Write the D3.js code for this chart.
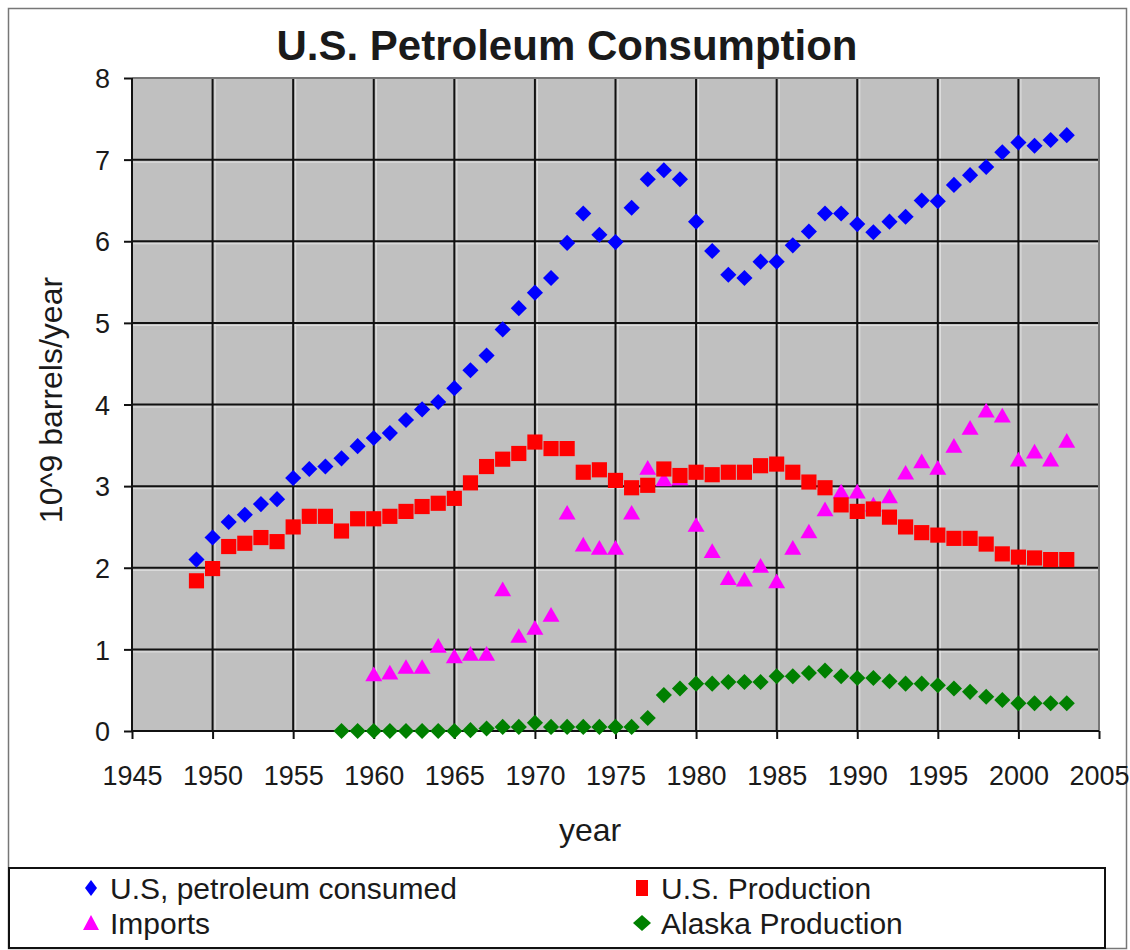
<!DOCTYPE html>
<html lang="en">
<meta charset="utf-8"/>
<head>
<script src="https://d3js.org/d3.v7.min.js"></script>
</head>
<style>
  body { margin: 0; background: #fff; }
  text { font-family: "Liberation Sans", Arial, sans-serif; fill: #1a1a1a; }
  .axis path { display: none; }
  .axis line { stroke: #111; stroke-width: 2; }
  .axis text { font-size: 27px; }
</style>
<body>
<script>
// years on the x axis, one value per year in each series (null = no data)
var years = [1949,1950,1951,1952,1953,1954,1955,1956,1957,1958,
             1959,1960,1961,1962,1963,1964,1965,1966,1967,1968,
             1969,1970,1971,1972,1973,1974,1975,1976,1977,1978,
             1979,1980,1981,1982,1983,1984,1985,1986,1987,1988,
             1989,1990,1991,1992,1993,1994,1995,1996,1997,1998,
             1999,2000,2001,2002,2003];

var consumed = [2.10,2.37,2.56,2.65,2.78,2.84,3.10,3.21,3.24,3.34,
                3.49,3.59,3.65,3.81,3.94,4.03,4.20,4.42,4.60,4.92,
                5.18,5.37,5.55,5.98,6.34,6.08,5.99,6.41,6.76,6.87,
                6.76,6.24,5.88,5.59,5.55,5.75,5.75,5.95,6.12,6.34,
                6.34,6.21,6.11,6.24,6.30,6.50,6.49,6.69,6.81,6.91,
                7.09,7.21,7.17,7.24,7.30];

var production = [1.84,1.99,2.26,2.30,2.37,2.32,2.50,2.63,2.63,2.45,
                  2.60,2.60,2.63,2.69,2.75,2.79,2.85,3.04,3.24,3.33,
                  3.40,3.54,3.46,3.46,3.17,3.20,3.07,2.98,3.01,3.21,
                  3.13,3.17,3.14,3.17,3.17,3.25,3.27,3.17,3.05,2.98,
                  2.77,2.69,2.72,2.62,2.50,2.43,2.40,2.36,2.36,2.29,
                  2.17,2.13,2.12,2.10,2.10];

var imports = [null,null,null,null,null,null,null,null,null,null,
               null,0.67,0.69,0.76,0.76,1.02,0.89,0.92,0.92,1.71,
               1.14,1.24,1.40,2.65,2.26,2.22,2.22,2.65,3.20,3.06,
               3.07,2.50,2.18,1.85,1.83,2.00,1.81,2.22,2.42,2.69,
               2.91,2.91,2.75,2.85,3.14,3.28,3.20,3.47,3.69,3.90,
               3.84,3.30,3.40,3.30,3.53];

var alaska = [null,null,null,null,null,null,null,null,null,0.00,
              0.00,0.00,0.00,0.00,0.00,0.00,0.00,0.01,0.03,0.05,
              0.05,0.10,0.05,0.05,0.05,0.05,0.05,0.05,0.16,0.44,
              0.52,0.58,0.58,0.60,0.60,0.60,0.67,0.67,0.71,0.74,
              0.67,0.65,0.65,0.61,0.58,0.58,0.56,0.52,0.48,0.42,
              0.38,0.34,0.34,0.34,0.34];

var xTicks = [1945,1950,1955,1960,1965,1970,1975,1980,1985,1990,1995,2000,2005];
var yTicks = [0,1,2,3,4,5,6,7,8];

var seriesNames = ["U.S, petroleum consumed", "U.S. Production", "Imports", "Alaska Production"];
var seriesColors = ["#0000ff", "#ff0000", "#ff00ff", "#008000"];

var W = 1130, H = 950;
var plot = {left: 132, right: 1099, top: 78, bottom: 731};

var svg = d3.select("body").append("svg")
    .attr("width", W)
    .attr("height", H);

// outer frame
svg.append("rect")
   .attr("x", 8.5).attr("y", 8.5)
   .attr("width", 1118).attr("height", 940)
   .attr("fill", "#fff").attr("stroke", "#777").attr("stroke-width", 1.5);

var x = d3.scaleLinear().domain([1945, 2005]).range([plot.left, plot.right]);
var y = d3.scaleLinear().domain([0, 8]).range([plot.bottom, plot.top]);

// plot background
svg.append("rect")
   .attr("x", plot.left).attr("y", plot.top)
   .attr("width", plot.right - plot.left).attr("height", plot.bottom - plot.top)
   .attr("fill", "#c0c0c0");

// light halo lines next to the grid (as in the reference rendering)
svg.append("g").selectAll("line")
   .data(xTicks.slice(1, -1)).enter().append("line")
   .attr("x1", d => x(d) + 2.5).attr("x2", d => x(d) + 2.5)
   .attr("y1", plot.top).attr("y2", plot.bottom)
   .attr("stroke", "#e2e2e2").attr("stroke-width", 1);
svg.append("g").selectAll("line")
   .data(yTicks.slice(1, -1)).enter().append("line")
   .attr("x1", plot.left).attr("x2", plot.right)
   .attr("y1", d => y(d) + 2.5).attr("y2", d => y(d) + 2.5)
   .attr("stroke", "#e2e2e2").attr("stroke-width", 1);

// grid lines
svg.append("g").selectAll("line")
   .data(xTicks.slice(1, -1)).enter().append("line")
   .attr("x1", d => x(d)).attr("x2", d => x(d))
   .attr("y1", plot.top).attr("y2", plot.bottom)
   .attr("stroke", "#111").attr("stroke-width", 2);
svg.append("g").selectAll("line")
   .data(yTicks.slice(1, -1)).enter().append("line")
   .attr("x1", plot.left).attr("x2", plot.right)
   .attr("y1", d => y(d)).attr("y2", d => y(d))
   .attr("stroke", "#111").attr("stroke-width", 2);

// top and right border
svg.append("path")
   .attr("d", "M" + plot.left + "," + plot.top + "H" + plot.right + "V" + plot.bottom)
   .attr("fill", "none").attr("stroke", "#777").attr("stroke-width", 2);

// axes
var xAxis = svg.append("g")
    .attr("class", "axis")
    .attr("transform", "translate(0," + plot.bottom + ")")
    .call(d3.axisBottom(x).tickValues(xTicks).tickFormat(d3.format("d")).tickSize(8).tickPadding(27));
var yAxis = svg.append("g")
    .attr("class", "axis")
    .attr("transform", "translate(" + plot.left + ",0)")
    .call(d3.axisLeft(y).tickValues(yTicks).tickSize(8).tickPadding(14));
yAxis.selectAll("text").attr("dy", "0.36em");

svg.append("line")
   .attr("x1", plot.left).attr("x2", plot.left)
   .attr("y1", plot.top).attr("y2", plot.bottom)
   .attr("stroke", "#111").attr("stroke-width", 2);
svg.append("line")
   .attr("x1", plot.left).attr("x2", plot.right)
   .attr("y1", plot.bottom).attr("y2", plot.bottom)
   .attr("stroke", "#111").attr("stroke-width", 2);

// titles
svg.append("text")
   .attr("x", 567).attr("y", 60)
   .attr("text-anchor", "middle")
   .style("font-size", "42px").style("font-weight", "bold")
   .text("U.S. Petroleum Consumption");

svg.append("text")
   .attr("transform", "translate(62,400) rotate(-90)")
   .attr("text-anchor", "middle")
   .style("font-size", "32px")
   .text("10^9 barrels/year");

svg.append("text")
   .attr("x", 590).attr("y", 841)
   .attr("text-anchor", "middle")
   .style("font-size", "32px")
   .text("year");

// markers
var diamond = d3.symbol().type(d3.symbolSquare).size(130);
var square = d3.symbol().type(d3.symbolSquare).size(230);
var triangle = d3.symbol().type(d3.symbolTriangle).size(125);

function drawSeries(values, color, sym, rotate) {
  var pts = years.map((yr, i) => ({year: yr, v: values[i]})).filter(d => d.v !== null);
  svg.append("g").selectAll("path")
     .data(pts).enter().append("path")
     .attr("d", sym)
     .attr("fill", color)
     .attr("transform", d => "translate(" + x(d.year) + "," + y(d.v) + ")" + (rotate ? " rotate(45)" : ""));
}

drawSeries(alaska, seriesColors[3], diamond, true);
drawSeries(imports, seriesColors[2], triangle, false);
drawSeries(production, seriesColors[1], square, false);
drawSeries(consumed, seriesColors[0], diamond, true);

// legend
svg.append("rect")
   .attr("x", 9).attr("y", 868)
   .attr("width", 1096).attr("height", 80)
   .attr("fill", "#fff").attr("stroke", "#111").attr("stroke-width", 2);

var legendPos = [{x: 91, y: 888}, {x: 642, y: 888}, {x: 91, y: 923}, {x: 642, y: 923}];
var legendShapes = [
  "M0,-8L6,0L0,8L-6,0Z",
  "M-6,-8H6V8H-6Z",
  "M0,-8L8,7H-8Z",
  "M0,-8L9,0L0,8L-9,0Z"
];
var lg = svg.append("g").selectAll("g")
    .data(seriesNames).enter().append("g")
    .attr("transform", (d, i) => "translate(" + legendPos[i].x + "," + legendPos[i].y + ")");
lg.append("path")
  .attr("d", (d, i) => legendShapes[i])
  .attr("fill", (d, i) => seriesColors[i]);
lg.append("text")
  .attr("x", 19).attr("dy", "0.36em")
  .style("font-size", "30px")
  .text(d => d);
</script>
</body>
</html>
